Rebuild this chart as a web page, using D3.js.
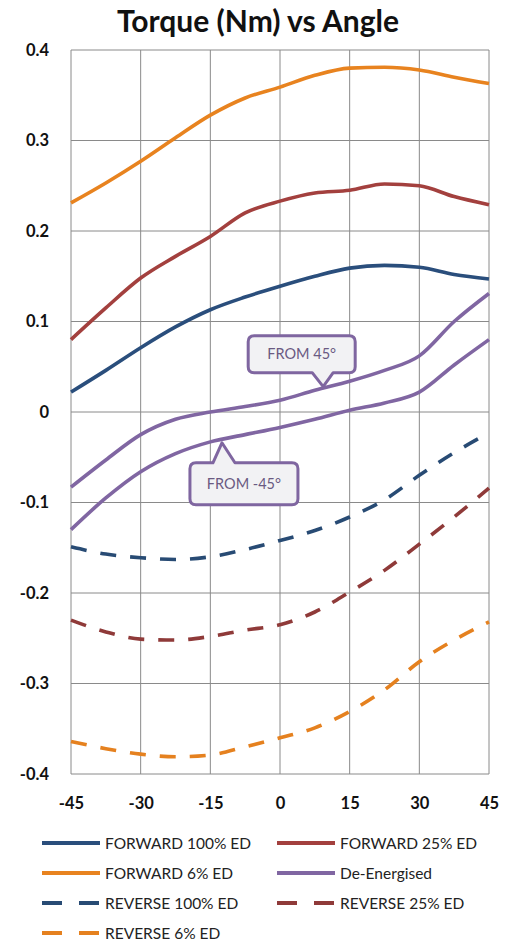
<!DOCTYPE html>
<html>
<head>
<meta charset="utf-8">
<script src="https://cdn.jsdelivr.net/npm/d3@7"></script>
<style>
  html, body { margin: 0; padding: 0; background: #ffffff; }
  svg { display: block; }
  text { font-family: Lato, "Open Sans", sans-serif; }
</style>
</head>
<body>
<svg id="chart" width="514" height="941"></svg>
<script>
// ---------- data ----------
const angles = [-45, -37.5, -30, -22.5, -15, -7.5, 0, 7.5, 15, 22.5, 30, 37.5, 45];
const forward100 = [0.022, 0.046, 0.071, 0.094, 0.113, 0.127, 0.139, 0.150, 0.159, 0.162, 0.160, 0.152, 0.147];
const forward25  = [0.080, 0.115, 0.148, 0.172, 0.194, 0.220, 0.233, 0.242, 0.245, 0.252, 0.250, 0.238, 0.229];
const forward6   = [0.231, 0.253, 0.277, 0.303, 0.328, 0.347, 0.359, 0.372, 0.380, 0.381, 0.378, 0.370, 0.363];
const deEnergisedFrom45  = [-0.083, -0.053, -0.025, -0.008, 0.000, 0.006, 0.013, 0.024, 0.034, 0.046, 0.062, 0.100, 0.131];
const deEnergisedFromM45 = [-0.130, -0.095, -0.066, -0.046, -0.033, -0.025, -0.017, -0.008, 0.002, 0.010, 0.022, 0.052, 0.080];
const reverse100 = [-0.149, -0.157, -0.161, -0.163, -0.160, -0.152, -0.142, -0.131, -0.116, -0.097, -0.070, -0.045, -0.023];
const reverse25  = [-0.230, -0.243, -0.251, -0.252, -0.248, -0.241, -0.235, -0.221, -0.199, -0.175, -0.146, -0.116, -0.084];
const reverse6   = [-0.364, -0.372, -0.378, -0.381, -0.379, -0.370, -0.360, -0.349, -0.331, -0.307, -0.276, -0.252, -0.232];

const xTicks = [-45, -30, -15, 0, 15, 30, 45];
const yTicks = [-0.4, -0.3, -0.2, -0.1, 0, 0.1, 0.2, 0.3, 0.4];
const yTickLabels = ["-0.4", "-0.3", "-0.2", "-0.1", "0", "0.1", "0.2", "0.3", "0.4"];

const series = [
  { name: "FORWARD 100% ED", values: forward100, color: "#2a4e7c", dashed: false, legend: true },
  { name: "FORWARD 25% ED",  values: forward25,  color: "#a3403e", dashed: false, legend: true },
  { name: "FORWARD 6% ED",   values: forward6,   color: "#e8831f", dashed: false, legend: true },
  { name: "De-Energised",    values: deEnergisedFrom45,  color: "#8066a2", dashed: false, legend: true },
  { name: "De-Energised",    values: deEnergisedFromM45, color: "#8066a2", dashed: false, legend: false },
  { name: "REVERSE 100% ED", values: reverse100, color: "#284b74", dashed: true, legend: true },
  { name: "REVERSE 25% ED",  values: reverse25,  color: "#8f3a39", dashed: true, legend: true },
  { name: "REVERSE 6% ED",   values: reverse6,   color: "#e5811f", dashed: true, legend: true }
];

const callouts = [
  { label: "FROM 45°",  angle: 9.3,   value: 0.028,  boxW: 107, boxH: 37, below: false },
  { label: "FROM -45°", angle: -12.5, value: -0.034, boxW: 108, boxH: 42, below: true }
];

// ---------- layout ----------
const svg = d3.select("#chart");
const plot = { left: 71, right: 489, top: 50, bottom: 774 };

const x = d3.scaleLinear().domain([-45, 45]).range([plot.left, plot.right]);
const y = d3.scaleLinear().domain([-0.4, 0.4]).range([plot.bottom, plot.top]);

// title
svg.append("text")
  .attr("x", 258).attr("y", 32)
  .attr("text-anchor", "middle")
  .attr("font-size", 30).attr("font-weight", 700).attr("fill", "#111")
  .text("Torque (Nm) vs Angle");

// gridlines
const grid = svg.append("g");
grid.selectAll("line.v").data(xTicks).join("line")
  .attr("x1", d => x(d)).attr("x2", d => x(d))
  .attr("y1", plot.top).attr("y2", plot.bottom)
  .attr("stroke", "#8a8a8a").attr("stroke-width", 1);
grid.selectAll("line.h").data(yTicks).join("line")
  .attr("x1", plot.left).attr("x2", plot.right)
  .attr("y1", d => y(d)).attr("y2", d => y(d))
  .attr("stroke", "#8a8a8a").attr("stroke-width", 1);

// axes (labels only)
const yAxis = d3.axisLeft(y).tickValues(yTicks).tickSize(0).tickPadding(0)
  .tickFormat((d, i) => yTickLabels[i]);
const gy = svg.append("g").attr("transform", `translate(${plot.left - 22},0)`).call(yAxis);
gy.select(".domain").remove();
gy.selectAll("text").attr("font-size", 16.5).attr("font-weight", 700).attr("fill", "#111")
  .attr("font-family", "Lato, 'Open Sans', sans-serif");

const xAxis = d3.axisBottom(x).tickValues(xTicks).tickSize(0).tickPadding(0)
  .tickFormat(d => String(d));
const gx = svg.append("g").attr("transform", `translate(0,${plot.bottom + 23})`).call(xAxis);
gx.select(".domain").remove();
gx.selectAll("text").attr("font-size", 16.5).attr("font-weight", 700).attr("fill", "#111")
  .attr("font-family", "Lato, 'Open Sans', sans-serif");

// lines
const line = d3.line()
  .x((d, i) => x(angles[i]))
  .y(d => y(d))
  .curve(d3.curveMonotoneX);

const gLines = svg.append("g");
series.forEach(s => {
  gLines.append("path")
    .attr("d", line(s.values))
    .attr("fill", "none")
    .attr("stroke", s.color)
    .attr("stroke-width", 3.6)
    .attr("stroke-dasharray", s.dashed ? "16,14" : null)
    .attr("stroke-linejoin", "round");
});

// callouts
callouts.forEach(c => {
  const tx = x(c.angle), ty = y(c.value);
  const g = svg.append("g");
  const r = 6;
  const w = c.boxW, h = c.boxH;
  let left, top, p;
  if (!c.below) {
    left = tx - 75; top = ty - 14 - h;
    const pb1 = tx - 11, pb2 = tx + 10, bot = top + h;
    p = `M${left + r},${top} H${left + w - r} Q${left + w},${top} ${left + w},${top + r} V${bot - r} Q${left + w},${bot} ${left + w - r},${bot} H${pb2} L${tx},${ty} L${pb1},${bot} H${left + r} Q${left},${bot} ${left},${bot - r} V${top + r} Q${left},${top} ${left + r},${top} Z`;
  } else {
    left = tx - 32; top = ty + 20;
    const pb1 = tx - 9, pb2 = tx + 13;
    p = `M${left + r},${top} H${pb1} L${tx},${ty} L${pb2},${top} H${left + w - r} Q${left + w},${top} ${left + w},${top + r} V${top + h - r} Q${left + w},${top + h} ${left + w - r},${top + h} H${left + r} Q${left},${top + h} ${left},${top + h - r} V${top + r} Q${left},${top} ${left + r},${top} Z`;
  }
  g.append("path").attr("d", p)
    .attr("fill", "#f2f2f4").attr("stroke", "#7f66a0").attr("stroke-width", 3)
    .attr("stroke-linejoin", "round");
  g.append("text")
    .attr("x", left + w / 2).attr("y", top + h / 2 + 5)
    .attr("text-anchor", "middle")
    .attr("font-size", 14.5).attr("fill", "#6a5a82")
    .text(c.label);
});

// legend
const legendItems = series.filter(s => s.legend);
const legend = svg.append("g");
legendItems.forEach((s, i) => {
  const col = i % 2, row = Math.floor(i / 2);
  const lx = col === 0 ? 42 : 277;
  const ly = 843 + row * 30;
  legend.append("line")
    .attr("x1", lx).attr("x2", lx + 58)
    .attr("y1", ly).attr("y2", ly)
    .attr("stroke", s.color).attr("stroke-width", 4)
    .attr("stroke-dasharray", s.dashed ? "20,17" : null);
  legend.append("text")
    .attr("x", lx + 63).attr("y", ly + 5.5)
    .attr("font-size", 15.5).attr("fill", "#222")
    .text(s.name);
});
</script>
</body>
</html>
